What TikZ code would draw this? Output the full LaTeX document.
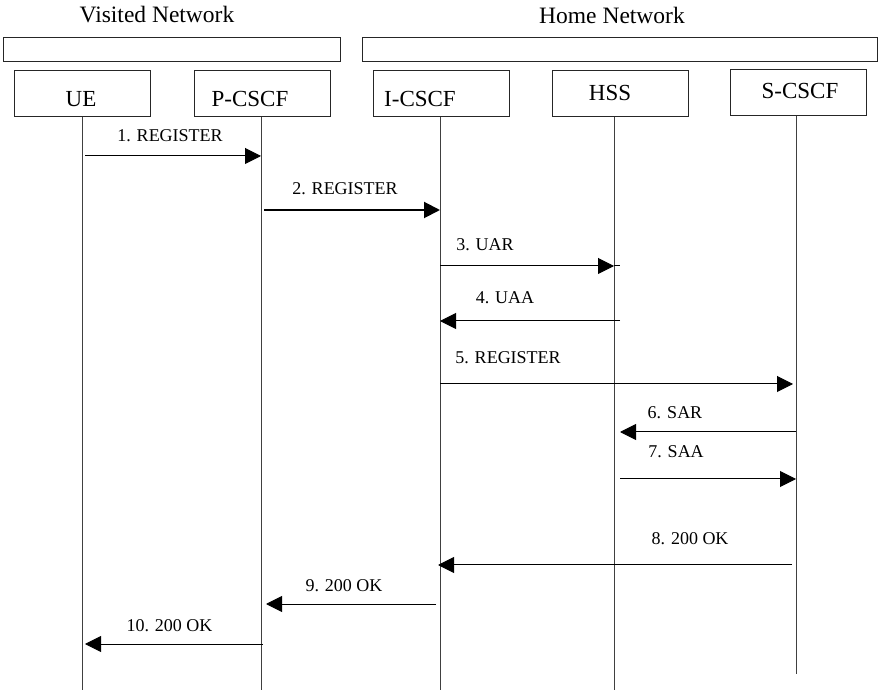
\documentclass[tikz,border=0pt]{standalone}
\usepackage{fontspec}
\setmainfont{Liberation Serif}
\usetikzlibrary{arrows.meta}

\tikzset{
  netbar/.style={draw=black!85, line width=1pt, inner sep=0pt, minimum height=24pt},
  entity/.style={draw=black!85, line width=1pt, inner sep=0pt, minimum width=136pt, minimum height=46pt},
  entlabel/.style={inner sep=0pt, font=\fontsize{23}{25}\selectfont},
  netlabel/.style={inner sep=0pt, font=\fontsize{23.5}{26}\selectfont},
  msglabel/.style={inner sep=0pt, font=\fontsize{18}{20}\selectfont},
  lifeline/.style={draw=black!75, line width=1pt},
  msg/.style={draw=black, line width=1pt, -{Triangle[length=16pt,width=16pt]}},
  msgthick/.style={msg, line width=2pt},
}

\begin{document}
\begin{tikzpicture}[x=1pt, y=-1pt]
\useasboundingbox (0,0) rectangle (879,692);

% network headers and bars
\node[netlabel] (vis) at (157,15) {Visited Network};
\node[netlabel] (home) at (612,15) {Home Network};
\node[netbar, minimum width=337pt] (visbar) at (171.5,50) {};
\node[netbar, minimum width=515pt] (homebar) at (619.5,50) {};

% entities
\node[entity] (ue)    at (82.5,94) {};
\node[entity] (pcscf) at (262,94) {};
\node[entity] (icscf) at (441,94) {};
\node[entity] (hss)   at (620,94) {};
\node[entity] (scscf) at (798,92.5) {};
\node[entlabel] at (81,99)  {UE};
\node[entlabel] at (250,99) {P-CSCF};
\node[entlabel] at (420,99) {I-CSCF};
\node[entlabel] at (610,93) {HSS};
\node[entlabel] at (800,91) {S-CSCF};

% lifeline positions
\coordinate (ueL)    at (82,690);
\coordinate (pcscfL) at (261,690);
\coordinate (icscfL) at (440,690);
\coordinate (hssL)   at (614,690);
\coordinate (scscfL) at (796,674);

\draw[lifeline] (ue.south -| ueL) -- (ueL);
\draw[lifeline] (pcscf.south -| pcscfL) -- (pcscfL);
\draw[lifeline] (icscf.south -| icscfL) -- (icscfL);
\draw[lifeline] (hss.south -| hssL) -- (hssL);
\draw[lifeline] (scscf.south -| scscfL) -- (scscfL);

% message rows
\coordinate (r1) at (0,156);
\coordinate (r2) at (0,210);
\coordinate (r3) at (0,266);
\coordinate (r4) at (0,321);
\coordinate (r5) at (0,384);
\coordinate (r6) at (0,432);
\coordinate (r7) at (0,479);
\coordinate (r8) at (0,565);
\coordinate (r9) at (0,604);
\coordinate (r10) at (0,644);

% messages
\draw[msg] ([xshift=3pt]ueL |- r1) -- (pcscfL |- r1);
\node[msglabel] at (170,136) {1. REGISTER};

\draw[msgthick] ([xshift=3pt]pcscfL |- r2) -- (icscfL |- r2);
\node[msglabel] at (345,189) {2. REGISTER};

\draw[msg] (icscfL |- r3) -- (hssL |- r3);
\draw[line width=1pt] (hssL |- r3) -- (hss |- r3);
\node[msglabel] at (485,245) {3. UAR};

\draw[msg] (hss |- r4) -- (icscfL |- r4);
\node[msglabel] at (505,298) {4. UAA};

\draw[msg] (icscfL |- r5) -- ([xshift=-3pt]scscfL |- r5);
\node[msglabel] at (508,358) {5. REGISTER};

\draw[msg] (scscfL |- r6) -- (hss |- r6);
\node[msglabel] at (675,413) {6. SAR};

\draw[msg] (hss |- r7) -- (scscfL |- r7);
\node[msglabel] at (676,452) {7. SAA};

\draw[msg] ([xshift=-4pt]scscfL |- r8) -- ([xshift=-2pt]icscfL |- r8);
\node[msglabel] at (690,539) {8. 200 OK};

\draw[msg] ([xshift=-4pt]icscfL |- r9) -- ([xshift=5pt]pcscfL |- r9);
\node[msglabel] at (344,586) {9. 200 OK};

\draw[msg] ([xshift=2pt]pcscfL |- r10) -- ([xshift=3pt]ueL |- r10);
\node[msglabel] at (169.5,625.5) {10. 200 OK};
\end{tikzpicture}
\end{document}
